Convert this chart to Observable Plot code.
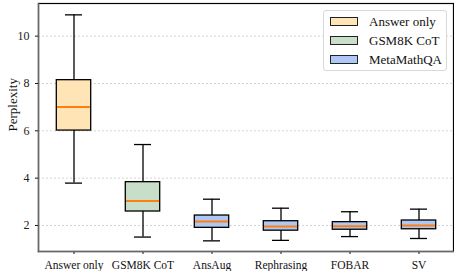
<!DOCTYPE html>
<html>
<head>
<meta charset="utf-8">
<script src="https://cdn.jsdelivr.net/npm/d3@7"></script>
<script src="https://cdn.jsdelivr.net/npm/@observablehq/plot@0.6"></script>
<style>
  html, body { margin: 0; padding: 0; background: #fff; }
  #wrap { position: relative; width: 454px; height: 271px; font-family: 'Liberation Serif', 'Times New Roman', Tinos, 'DejaVu Serif', serif; }
  #legend { position: absolute; left: 323px; top: 10px; width: 124px; height: 61px; box-sizing: border-box;
    border: 1px solid #d8d8d8; border-radius: 3px; background: rgba(255,255,255,0.9); font-size: 13px;
    font-family: 'Liberation Serif', 'Times New Roman', Tinos, 'DejaVu Serif', serif; }
  .row { position: absolute; left: 6px; height: 19px; display: flex; align-items: center; }
  .sw { width: 26px; height: 7px; border: 1px solid #222; margin-right: 11px; }
  .lab { line-height: 19px; color: #111; }
  svg text { font-family: 'Liberation Serif', 'Times New Roman', Tinos, 'DejaVu Serif', serif !important; }
</style>
</head>
<body>
<div id="wrap"></div>
<script>
const categories = ["Answer only", "GSM8K CoT", "AnsAug", "Rephrasing", "FOBAR", "SV"];
const whiskerLow  = [3.79, 1.51, 1.35, 1.37, 1.53, 1.45];
const q1          = [6.01, 2.59, 1.90, 1.78, 1.82, 1.84];
const median      = [7.01, 3.03, 2.17, 1.96, 1.97, 2.00];
const q3          = [8.14, 3.83, 2.42, 2.18, 2.14, 2.21];
const whiskerHigh = [10.90, 5.42, 3.11, 2.73, 2.58, 2.69];
const group       = ["Answer only", "GSM8K CoT", "MetaMathQA", "MetaMathQA", "MetaMathQA", "MetaMathQA"];
const legendNames = ["Answer only", "GSM8K CoT", "MetaMathQA"];
const legendColors = ["#ffe4b5", "#c9dec9", "#aec7f4"];
const yTicks = [2, 4, 6, 8, 10];

const rows = categories.map((c, i) => ({
  cat: c, lo: whiskerLow[i], q1: q1[i], med: median[i], q3: q3[i], hi: whiskerHigh[i], group: group[i]
}));

const boxInset = 17.3;
const capInset = 26;
const serif = "'Liberation Serif', 'Times New Roman', Tinos, 'DejaVu Serif', serif";

const chart = Plot.plot({
  width: 454,
  height: 271,
  marginLeft: 38,
  marginRight: 1,
  marginTop: 3,
  marginBottom: 20,
  style: { fontFamily: serif, fontSize: "11px", color: "#111" },
  x: { type: "band", domain: categories, padding: 0, label: null, tickSize: 3 },
  y: { domain: [0.9, 11.38], ticks: yTicks, tickSize: 3, label: null },
  color: { domain: legendNames, range: legendColors },
  marks: [
    Plot.ruleY(yTicks, { stroke: "#c8c8c8", strokeDasharray: "2,2", strokeWidth: 0.8 }),
    Plot.ruleX(rows, { x: "cat", y1: "lo", y2: "hi", stroke: "#000", strokeWidth: 1.3 }),
    Plot.tickY(rows, { x: "cat", y: "lo", stroke: "#000", strokeWidth: 1.3, insetLeft: capInset, insetRight: capInset }),
    Plot.tickY(rows, { x: "cat", y: "hi", stroke: "#000", strokeWidth: 1.3, insetLeft: capInset, insetRight: capInset }),
    Plot.barY(rows, { x: "cat", y1: "q1", y2: "q3", fill: "group", stroke: "#000", strokeWidth: 1.3, insetLeft: boxInset, insetRight: boxInset }),
    Plot.tickY(rows, { x: "cat", y: "med", stroke: "#ff7f0e", strokeWidth: 2, insetLeft: boxInset + 0.7, insetRight: boxInset + 0.7 }),
    Plot.axisY({ ticks: yTicks, tickSize: 3, label: null, fontSize: 12, fill: "#222" }),
    Plot.axisX({ tickSize: 3, label: null, fontSize: 11.5, fill: "#111" }),
    Plot.frame({ stroke: "#000", strokeWidth: 1.2 }),
    Plot.frame({ anchor: "left", stroke: "#666", strokeWidth: 1.5 }),
    Plot.frame({ anchor: "bottom", stroke: "#666", strokeWidth: 1.5 }),
    Plot.text(["Perplexity"], { frameAnchor: "left", dx: -26, dy: 4, rotate: -90, fontSize: 13, fill: "#111" })
  ]
});

const wrap = document.getElementById("wrap");
wrap.appendChild(chart);

const legend = document.createElement("div");
legend.id = "legend";
legendNames.forEach((name, i) => {
  const r = document.createElement("div");
  r.className = "row";
  r.style.top = (1 + i * 19) + "px";
  const sw = document.createElement("div");
  sw.className = "sw";
  sw.style.background = legendColors[i];
  const lab = document.createElement("span");
  lab.className = "lab";
  lab.textContent = name;
  r.appendChild(sw);
  r.appendChild(lab);
  legend.appendChild(r);
});
wrap.appendChild(legend);
</script>
</body>
</html>
